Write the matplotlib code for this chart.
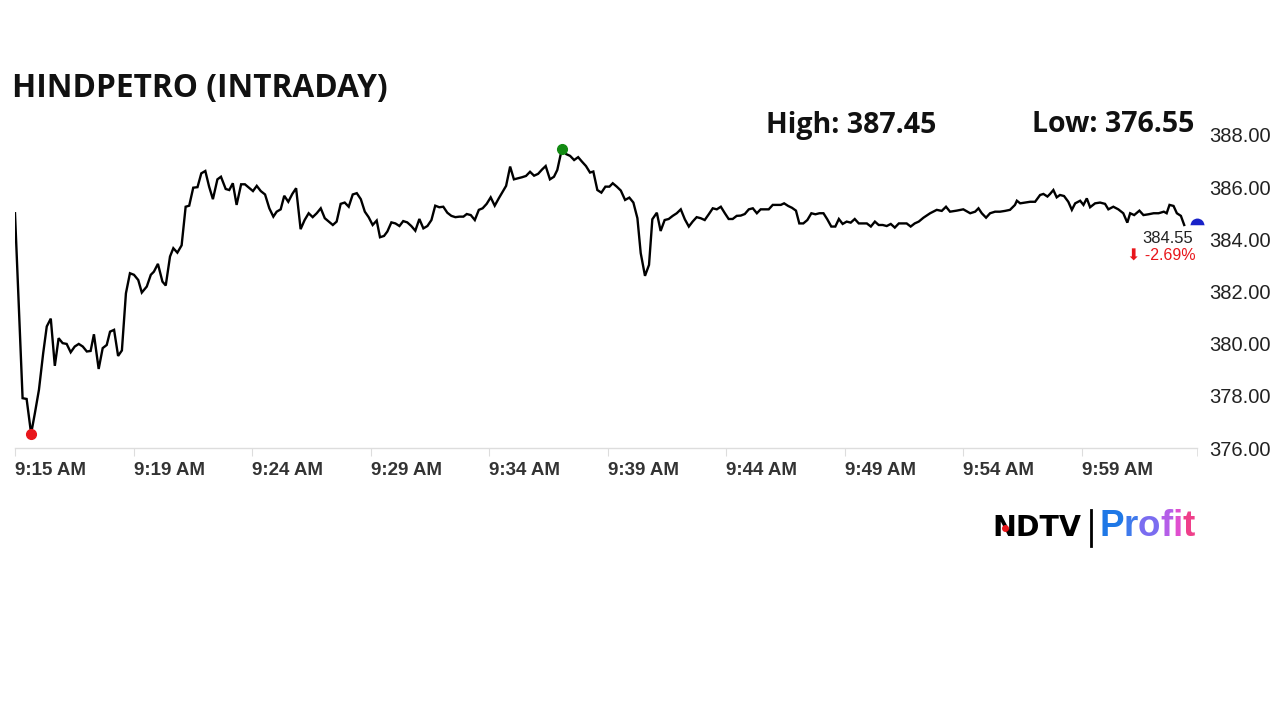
import matplotlib.pyplot as plt

# minutes after 9:15 AM and last traded price
minutes = [0.00, 0.32, 0.49, 0.68, 0.84, 1.01, 1.19, 1.34, 1.51, 1.68,
           1.84, 2.01, 2.18, 2.35, 2.52, 2.69, 2.86, 3.03, 3.19, 3.33,
           3.53, 3.70, 3.87, 4.01, 4.18, 4.35, 4.51, 4.68, 4.85, 5.02,
           5.20, 5.35, 5.56, 5.73, 5.86, 6.03, 6.22, 6.36, 6.54, 6.68,
           6.85, 7.03, 7.20, 7.35, 7.52, 7.70, 7.86, 8.03, 8.19, 8.35,
           8.54, 8.69, 8.89, 9.04, 9.19, 9.35, 9.54, 9.70, 9.87, 10.04,
           10.20, 10.37, 10.55, 10.73, 10.90, 11.04, 11.21, 11.36, 11.53, 11.70,
           11.86, 12.05, 12.22, 12.39, 12.56, 12.73, 12.90, 13.07, 13.24, 13.41,
           13.57, 13.74, 13.91, 14.08, 14.25, 14.42, 14.59, 14.76, 14.92, 15.09,
           15.26, 15.40, 15.57, 15.71, 15.88, 16.05, 16.22, 16.38, 16.55, 16.72,
           16.89, 17.06, 17.23, 17.40, 17.57, 17.73, 17.90, 18.07, 18.24, 18.41,
           18.58, 18.75, 18.92, 19.06, 19.23, 19.40, 19.57, 19.73, 19.90, 20.07,
           20.24, 20.41, 20.58, 20.72, 20.89, 21.05, 21.22, 21.39, 21.56, 21.73,
           21.90, 22.07, 22.24, 22.39, 22.57, 22.74, 22.88, 23.07, 23.25, 23.42,
           23.59, 23.76, 23.92, 24.09, 24.26, 24.40, 24.57, 24.74, 24.91, 25.08,
           25.22, 25.39, 25.56, 25.74, 25.92, 26.09, 26.26, 26.40, 26.58, 26.75,
           26.89, 27.08, 27.24, 27.41, 27.58, 27.75, 27.92, 28.09, 28.26, 28.43,
           28.59, 28.76, 28.93, 29.10, 29.27, 29.44, 29.61, 29.78, 29.95, 30.11,
           30.28, 30.45, 30.62, 30.79, 30.96, 31.13, 31.30, 31.46, 31.63, 31.80,
           31.97, 32.14, 32.31, 32.45, 32.62, 32.78, 32.95, 33.09, 33.26, 33.43,
           33.60, 33.77, 33.94, 34.11, 34.27, 34.44, 34.61, 34.76, 34.92, 35.09,
           35.26, 35.43, 35.60, 35.77, 35.94, 36.11, 36.28, 36.44, 36.61, 36.78,
           36.95, 37.12, 37.29, 37.46, 37.62, 37.79, 37.96, 38.13, 38.33, 38.61,
           38.89, 39.10, 39.28, 39.45, 39.73, 40.01, 40.30, 40.51, 40.65, 40.79,
           40.97, 41.14, 41.35, 41.56, 41.77, 41.98, 42.19, 42.27, 42.41, 42.62,
           42.83, 43.04, 43.25, 43.39, 43.56, 43.67, 43.81, 43.95, 44.09, 44.26,
           44.44, 44.59, 44.73, 44.94, 45.08, 45.22, 45.36, 45.57, 45.78, 45.99,
           46.13, 46.34, 46.55, 46.76, 46.93, 47.05, 47.22, 47.44, 47.61, 47.82,
           48.04, 48.25, 48.47, 48.59, 48.71, 48.88, 49.02, 49.19, 49.33]
prices = [385.00, 377.91, 377.88, 376.55, 377.34, 378.23, 379.64, 380.66, 380.96, 379.15,
          380.21, 380.02, 379.99, 379.67, 379.89, 379.99, 379.89, 379.70, 379.72, 380.36,
          379.03, 379.83, 379.95, 380.46, 380.53, 379.53, 379.74, 381.93, 382.70, 382.64,
          382.44, 381.96, 382.19, 382.64, 382.76, 383.06, 382.38, 382.23, 383.34, 383.66,
          383.49, 383.77, 385.25, 385.29, 385.98, 386.00, 386.53, 386.62, 386.02, 385.54,
          386.30, 386.40, 385.93, 385.89, 386.15, 385.32, 386.11, 386.11, 385.98, 385.85,
          386.05, 385.85, 385.72, 385.19, 384.87, 385.06, 385.15, 385.67, 385.44, 385.74,
          385.96, 384.39, 384.74, 385.00, 384.85, 385.00, 385.19, 384.81, 384.68, 384.55,
          384.68, 385.36, 385.41, 385.25, 385.72, 385.77, 385.54, 385.06, 384.85, 384.55,
          384.72, 384.08, 384.13, 384.30, 384.65, 384.61, 384.51, 384.70, 384.65, 384.51,
          384.33, 384.78, 384.42, 384.51, 384.74, 385.29, 385.23, 385.25, 385.02, 384.90,
          384.85, 384.87, 384.87, 384.97, 384.93, 384.74, 385.13, 385.19, 385.36, 385.61,
          385.29, 385.57, 385.83, 386.05, 386.79, 386.30, 386.34, 386.38, 386.43, 386.59,
          386.44, 386.51, 386.68, 386.81, 386.30, 386.40, 386.66, 387.45, 387.27, 387.20,
          387.04, 387.15, 386.98, 386.81, 386.56, 386.60, 385.89, 385.79, 386.02, 386.02,
          386.15, 386.02, 385.87, 385.51, 385.60, 385.41, 384.81, 383.47, 382.60, 383.02,
          384.77, 385.02, 384.32, 384.74, 384.78, 384.90, 385.00, 385.15, 384.77, 384.49,
          384.68, 384.85, 384.81, 384.74, 384.96, 385.19, 385.15, 385.25, 385.00, 384.78,
          384.78, 384.90, 384.91, 384.97, 385.15, 385.19, 385.00, 385.15, 385.15, 385.15,
          385.32, 385.32, 385.32, 385.38, 385.28, 385.21, 385.10, 384.61, 384.61, 384.74,
          385.00, 384.96, 385.00, 385.00, 384.77, 384.49, 384.49, 384.78, 384.59, 384.68,
          384.64, 384.78, 384.61, 384.61, 384.61, 384.49, 384.68, 384.55, 384.55, 384.51,
          384.59, 384.45, 384.61, 384.61, 384.61, 384.49, 384.61, 384.68, 384.83, 385.00,
          385.13, 385.09, 385.25, 385.06, 385.10, 385.15, 385.00, 385.06, 385.19, 385.00,
          384.83, 385.00, 385.06, 385.06, 385.09, 385.13, 385.32, 385.48, 385.38, 385.41,
          385.44, 385.44, 385.70, 385.74, 385.64, 385.74, 385.89, 385.61, 385.70, 385.66,
          385.44, 385.13, 385.38, 385.48, 385.32, 385.57, 385.23, 385.38, 385.41, 385.36,
          385.15, 385.25, 385.15, 385.00, 384.64, 385.00, 384.93, 385.10, 384.93, 384.96,
          385.00, 385.00, 385.06, 385.00, 385.32, 385.28, 385.00, 384.90, 384.55]

last_minute = 49.87
last_price = 384.55
day_high = 387.45
day_low = 376.55
change_pct = -2.69

tick_minutes = [0, 5, 10, 15, 20, 25, 30, 35, 40, 45]
tick_labels = ['9:15 AM', '9:19 AM', '9:24 AM', '9:29 AM', '9:34 AM',
               '9:39 AM', '9:44 AM', '9:49 AM', '9:54 AM', '9:59 AM']
y_ticks = [376, 378, 380, 382, 384, 386, 388]

fig = plt.figure(figsize=(12.8, 7.2), dpi=100)
ax = fig.add_axes([15/1280, 1-448/720, (1197-15)/1280, (448-135)/720])

ax.plot(minutes, prices, color='black', lw=1.7, solid_joinstyle='miter')

lo_i = prices.index(day_low)
hi_i = prices.index(day_high)
ax.plot(minutes[lo_i], prices[lo_i], 'o', color='#e8161b', ms=7, zorder=5)
ax.plot(minutes[hi_i], prices[hi_i], 'o', color='#128a12', ms=7, zorder=5)
ax.plot(last_minute, last_price, 'o', color='#1822c8', ms=10, fillstyle='top',
        markerfacecoloralt='white', mew=0, zorder=5, clip_on=False)

ax.set_xlim(0, last_minute)
ax.set_ylim(376, 388)
ax.set_xticks(tick_minutes)
ax.set_xticks([last_minute], minor=True)
ax.set_xticklabels(tick_labels, ha='left', family='Liberation Sans',
                   fontsize=13.5, color='#333333', fontweight='bold')
ax.set_yticks(y_ticks)
ax.set_yticklabels(['%.2f' % v for v in y_ticks], family='Liberation Sans',
                   fontsize=14.5, color='#222222')
ax.yaxis.tick_right()
ax.tick_params(axis='y', length=0, pad=9)
ax.tick_params(axis='x', which='both', length=6, color='#dddddd', pad=4)
for s in ['top', 'left', 'right']:
    ax.spines[s].set_visible(False)
ax.spines['bottom'].set_color('#dddddd')
ax.spines['bottom'].set_linewidth(1)

ax.text(last_minute - 0.15, last_price - 0.22, '%.2f' % last_price, ha='right', va='top',
        family='Liberation Sans', fontsize=12, color='#222222')
ax.text(last_minute - 0.05, last_price - 0.88, '\u2b07 %.2f%%' % change_pct, ha='right', va='top',
        family=['Liberation Sans', 'DejaVu Sans'], fontsize=11.5, color='#e8161b')

fig.text(12/1280, 1-88/720, 'HINDPETRO (INTRADAY)', family='Open Sans', fontweight='bold',
         fontsize=22.8, color='#111111', va='center')
fig.text(766/1280, 1-125/720, 'High: %.2f' % day_high, family='Open Sans', fontweight='bold',
         fontsize=20.5, color='#111111', va='center')
fig.text(1194/1280, 1-125/720, 'Low: %.2f' % day_low, family='Open Sans', fontweight='bold',
         fontsize=20.5, color='#111111', va='center', ha='right')

# logo
fig.text(1081/1280, 1-528/720, 'NDTV', family='DejaVu Sans', fontweight='heavy',
         fontsize=20.5, color='black', va='center', ha='right')
fig.add_artist(plt.Line2D([1005/1280], [1-528/720], marker='o', ms=4, color='#e8161b',
                          lw=0, zorder=6))
fig.add_artist(plt.Line2D([1091/1280, 1091/1280], [1-510/720, 1-546/720],
                          color='black', lw=2))
profit_colors = ['#1f78e6', '#3f7aec', '#7a6cf0', '#b45ee8', '#e04fcf', '#ef3f8a']
prev = fig.text(1099/1280, 1-527/720, 'P', family='Liberation Sans', fontweight='bold',
                fontsize=26.5, color=profit_colors[0], va='center')
for ch, c in zip('rofit', profit_colors[1:]):
    prev = ax.annotate(ch, xy=(1, 0), xycoords=prev, va='bottom', family='Liberation Sans',
                       fontweight='bold', fontsize=26.5, color=c, annotation_clip=False)

fig.savefig('out.png', dpi=100)
